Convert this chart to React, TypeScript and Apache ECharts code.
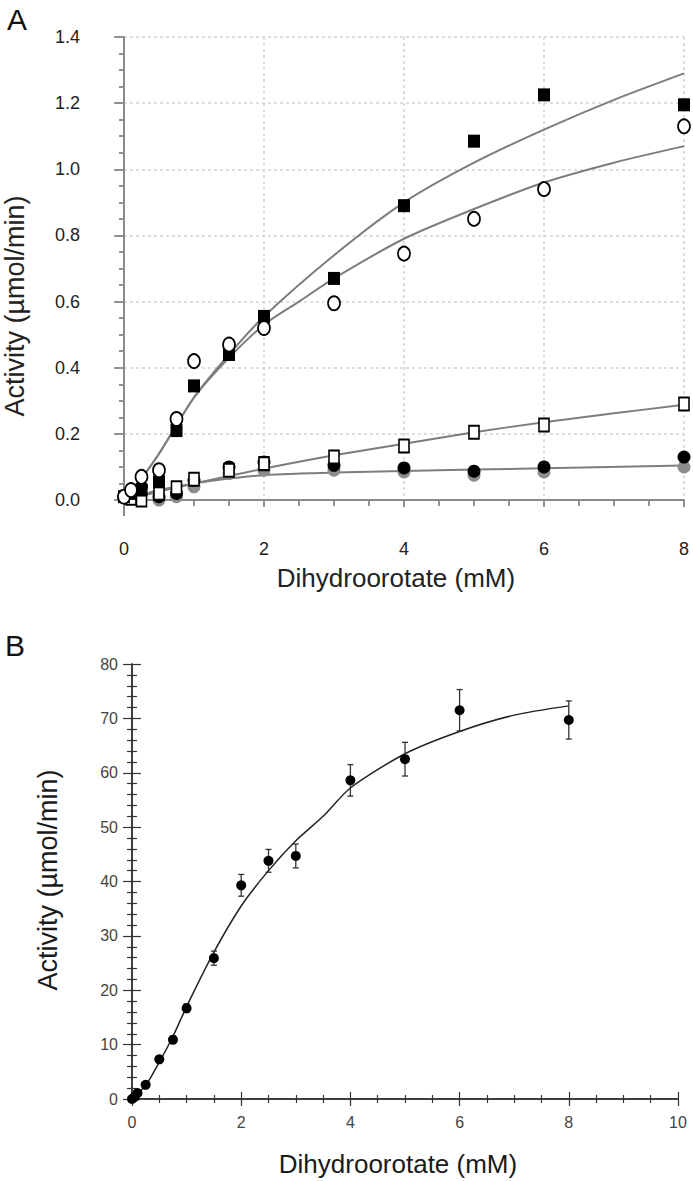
import React, { useEffect, useRef } from "react";
import * as echarts from "echarts";

// ---------- Panel A data ----------
const aFilledSqX = [0, 0.1, 0.25, 0.5, 0.75, 1, 1.5, 2, 3, 4, 5, 6, 8];
const aFilledSqY = [0.01, 0.02, 0.03, 0.055, 0.21, 0.345, 0.44, 0.555, 0.67, 0.89, 1.085, 1.225, 1.195];

const aOpenCircX = [0, 0.1, 0.25, 0.5, 0.75, 1, 1.5, 2, 3, 4, 5, 6, 8];
const aOpenCircY = [0.01, 0.03, 0.07, 0.09, 0.245, 0.42, 0.47, 0.52, 0.595, 0.745, 0.85, 0.94, 1.13];

const aOpenSqX = [0.1, 0.25, 0.5, 0.75, 1, 1.5, 2, 3, 4, 5, 6, 8];
const aOpenSqY = [0.005, 0.0, 0.02, 0.037, 0.063, 0.09, 0.11, 0.13, 0.163, 0.205, 0.227, 0.29];

const aFilledCircX = [0, 0.1, 0.25, 0.5, 0.75, 1, 1.5, 2, 3, 4, 5, 6, 8];
const aFilledCircY = [0.01, 0.02, 0.04, 0.01, 0.02, 0.06, 0.1, 0.115, 0.105, 0.097, 0.087, 0.1, 0.13];

const aGrayCircX = [0.5, 0.75, 1, 1.5, 2, 3, 4, 5, 6, 8];
const aGrayCircY = [0.0, 0.01, 0.04, 0.08, 0.09, 0.09, 0.085, 0.075, 0.085, 0.1];

// fitted curves
const aFitSqX = [0.1, 0.5, 1, 1.5, 2, 3, 4, 5, 6, 7, 8];
const aFitSqY = [0.02, 0.14, 0.31, 0.44, 0.555, 0.74, 0.9, 1.02, 1.12, 1.21, 1.29];
const aFitCircX = [0.1, 0.5, 1, 1.5, 2, 2.5, 3, 4, 5, 6, 7, 8];
const aFitCircY = [0.02, 0.14, 0.31, 0.43, 0.53, 0.6, 0.67, 0.79, 0.88, 0.96, 1.02, 1.07];
const aFitOpenSqX = [0, 0.5, 1, 2, 3, 4, 5, 6, 7, 8];
const aFitOpenSqY = [0, 0.025, 0.05, 0.095, 0.135, 0.17, 0.205, 0.235, 0.262, 0.288];
const aFitFilledCircX = [0, 0.25, 0.5, 1, 1.5, 2, 3, 4, 5, 6, 8];
const aFitFilledCircY = [0, 0.015, 0.03, 0.05, 0.065, 0.075, 0.083, 0.088, 0.092, 0.096, 0.104];

// ---------- Panel B data ----------
const bX = [0, 0.05, 0.1, 0.25, 0.5, 0.75, 1, 1.5, 2, 2.5, 3, 4, 5, 6, 8];
const bY = [0, 0.4, 1.1, 2.6, 7.3, 10.9, 16.7, 25.9, 39.3, 43.8, 44.7, 58.6, 62.5, 71.5, 69.7];
const bErr = [0.3, 0.3, 0.4, 0.5, 0.6, 0.7, 0.8, 1.3, 2.0, 2.1, 2.2, 2.9, 3.1, 3.8, 3.5];
const bFitX = [0, 0.25, 0.5, 0.75, 1, 1.5, 2, 2.5, 3, 3.5, 4, 5, 6, 7, 8];
const bFitY = [0, 2.5, 6.8, 11.5, 17, 27, 35.5, 42, 47.5, 52, 57.2, 63.5, 67.6, 70.6, 72.3];

const xTitle = "Dihydroorotate (mM)";
const yTitle = "Activity (\u00b5mol/min)";

const FONT = "'Liberation Sans', Arial, Helvetica, sans-serif";

const zip = (xs: number[], ys: number[]) => xs.map((x, i) => [x, ys[i]]);

export default function App() {
  const ref = useRef<HTMLDivElement>(null);
  useEffect(() => {
    if (!ref.current) return;
    const chart = echarts.init(ref.current, null, { renderer: "svg" });
    const aCol = "#8a8a8a";
    const bCol = "#333";
    const aLine = { show: true, lineStyle: { color: aCol, width: 2 } };
    const bLine = { show: true, lineStyle: { color: bCol, width: 1.5 } };
    const aTickStyle = { color: aCol, width: 1.5 };
    const bTickStyle = { color: bCol, width: 1.2 };
    const aSplit = { show: true, lineStyle: { color: "#d4d4d4", type: [3, 3], width: 1.5 } };

    const option: any = {
      animation: false,
      backgroundColor: "#fff",
      grid: [
        { left: 124, top: 37, width: 560, height: 463 },
        { left: 132, top: 664, width: 546, height: 435 },
      ],
      xAxis: [
        {
          gridIndex: 0, type: "value", min: 0, max: 8, interval: 2,
          axisLine: aLine,
          axisTick: { show: true, inside: false, length: 7, lineStyle: aTickStyle },
          minorTick: { show: true, splitNumber: 4, length: 6, lineStyle: aTickStyle },
          splitLine: aSplit,
          axisLabel: { fontSize: 18, color: "#222", margin: 40, fontFamily: FONT },
        },
        {
          gridIndex: 0, type: "value", min: 0, max: 8, interval: 2, position: "top",
          axisLine: aLine,
          axisTick: { show: true, inside: true, length: 7, lineStyle: aTickStyle },
          minorTick: { show: true, splitNumber: 4, length: 6, lineStyle: aTickStyle },
          splitLine: { show: false },
          axisLabel: { show: false },
        },
        {
          gridIndex: 1, type: "value", min: 0, max: 10, interval: 2,
          axisLine: bLine,
          axisTick: { show: true, inside: true, length: 7, lineStyle: bTickStyle },
          minorTick: { show: true, splitNumber: 4, length: 4, lineStyle: bTickStyle },
          splitLine: { show: false },
          axisLabel: { fontSize: 16, color: "#444", margin: 15, fontFamily: FONT },
        },
        {
          gridIndex: 1, type: "value", min: 0, max: 10, interval: 2, position: "top",
          axisLine: bLine,
          axisTick: { show: true, inside: true, length: 7, lineStyle: bTickStyle },
          minorTick: { show: true, splitNumber: 4, length: 4, lineStyle: bTickStyle },
          splitLine: { show: false },
          axisLabel: { show: false },
        },
      ],
      yAxis: [
        {
          gridIndex: 0, type: "value", min: 0, max: 1.4, interval: 0.2,
          axisLine: aLine,
          axisTick: { show: true, inside: false, length: 10, lineStyle: aTickStyle },
          minorTick: { show: true, splitNumber: 4, length: 5, lineStyle: aTickStyle },
          splitLine: aSplit,
          axisLabel: {
            fontSize: 18, color: "#222", margin: 44, fontFamily: FONT,
            formatter: (v: number) => v.toFixed(1),
          },
        },
        {
          gridIndex: 0, type: "value", min: 0, max: 1.4, interval: 0.2, position: "right",
          axisLine: aLine,
          axisTick: { show: true, inside: true, length: 9, lineStyle: aTickStyle },
          minorTick: { show: true, splitNumber: 4, length: 5, lineStyle: aTickStyle },
          splitLine: { show: false },
          axisLabel: { show: false },
        },
        {
          gridIndex: 1, type: "value", min: 0, max: 80, interval: 10,
          axisLine: bLine,
          axisTick: { show: true, inside: true, length: 9, lineStyle: bTickStyle },
          minorTick: { show: true, splitNumber: 5, length: 5, lineStyle: bTickStyle },
          splitLine: { show: false },
          axisLabel: { fontSize: 16, color: "#444", margin: 14, fontFamily: FONT },
        },
        {
          gridIndex: 1, type: "value", min: 0, max: 80, interval: 10, position: "right",
          axisLine: bLine,
          axisTick: { show: true, inside: true, length: 9, lineStyle: bTickStyle },
          minorTick: { show: true, splitNumber: 5, length: 5, lineStyle: bTickStyle },
          splitLine: { show: false },
          axisLabel: { show: false },
        },
      ],
      graphic: [
        { type: "line", shape: { x1: 124, y1: 500, x2: 124, y2: 516 }, style: { stroke: aCol, lineWidth: 2 } },
        { type: "text", x: 17, y: 19, style: { text: "A", font: `30px ${FONT}`, fill: "#111", align: "center", verticalAlign: "middle" } },
        { type: "text", x: 15, y: 645, style: { text: "B", font: `30px ${FONT}`, fill: "#111", align: "center", verticalAlign: "middle" } },
        { type: "text", x: 15, y: 306, rotation: Math.PI / 2, style: { text: yTitle, font: `27px ${FONT}`, fill: "#222", align: "center", verticalAlign: "middle" } },
        { type: "text", x: 396, y: 578, style: { text: xTitle, font: `26px ${FONT}`, fill: "#222", align: "center", verticalAlign: "middle" } },
        { type: "text", x: 48, y: 880, rotation: Math.PI / 2, style: { text: yTitle, font: `27px ${FONT}`, fill: "#1a1a1a", align: "center", verticalAlign: "middle" } },
        { type: "text", x: 398, y: 1164, style: { text: xTitle, font: `26px ${FONT}`, fill: "#1a1a1a", align: "center", verticalAlign: "middle" } },
      ],
      series: [
        // Panel A fitted curves
        ...[
          [aFitSqX, aFitSqY],
          [aFitCircX, aFitCircY],
          [aFitOpenSqX, aFitOpenSqY],
          [aFitFilledCircX, aFitFilledCircY],
        ].map(([xs, ys]) => ({
          type: "line", xAxisIndex: 0, yAxisIndex: 0, data: zip(xs, ys),
          showSymbol: false, smooth: 0.25,
          lineStyle: { color: "#7d7d7d", width: 2 }, z: 3,
        })),
        {
          type: "scatter", xAxisIndex: 0, yAxisIndex: 0, data: zip(aGrayCircX, aGrayCircY),
          symbol: "circle", symbolSize: 13, itemStyle: { color: "#8c8c8c", opacity: 1 }, z: 4,
        },
        {
          type: "scatter", xAxisIndex: 0, yAxisIndex: 0, data: zip(aFilledCircX, aFilledCircY),
          symbol: "circle", symbolSize: 13, itemStyle: { color: "#000", opacity: 1 }, z: 5,
        },
        {
          type: "scatter", xAxisIndex: 0, yAxisIndex: 0, data: zip(aOpenSqX, aOpenSqY),
          symbol: "rect", symbolSize: [10, 13], itemStyle: { color: "#fff", borderColor: "#000", borderWidth: 1.8, opacity: 1 }, z: 6,
        },
        {
          type: "scatter", xAxisIndex: 0, yAxisIndex: 0, data: zip(aFilledSqX, aFilledSqY),
          symbol: "rect", symbolSize: [12, 13], itemStyle: { color: "#000", opacity: 1 }, z: 7,
        },
        {
          type: "scatter", xAxisIndex: 0, yAxisIndex: 0, data: zip(aOpenCircX, aOpenCircY),
          symbol: "circle", symbolSize: [12, 14], itemStyle: { color: "#fff", borderColor: "#000", borderWidth: 1.8, opacity: 1 }, z: 8,
        },
        // Panel B
        {
          type: "line", xAxisIndex: 2, yAxisIndex: 2, data: zip(bFitX, bFitY),
          showSymbol: false, smooth: 0.25,
          lineStyle: { color: "#222", width: 1.5 }, z: 3,
        },
        {
          type: "custom", xAxisIndex: 2, yAxisIndex: 2,
          data: bX.map((x, i) => [x, bY[i], bErr[i]]),
          encode: { x: 0, y: 1 },
          renderItem: (params: any, api: any) => {
            const x = api.value(0);
            const y = api.value(1);
            const e = api.value(2);
            const top = api.coord([x, y + e]);
            const bot = api.coord([x, y - e]);
            const hw = 3;
            const st = { stroke: "#333", lineWidth: 1.3 };
            return {
              type: "group",
              children: [
                { type: "line", shape: { x1: top[0], y1: top[1], x2: bot[0], y2: bot[1] }, style: st },
                { type: "line", shape: { x1: top[0] - hw, y1: top[1], x2: top[0] + hw, y2: top[1] }, style: st },
                { type: "line", shape: { x1: bot[0] - hw, y1: bot[1], x2: bot[0] + hw, y2: bot[1] }, style: st },
              ],
            };
          },
          z: 4,
        },
        {
          type: "scatter", xAxisIndex: 2, yAxisIndex: 2, data: zip(bX, bY),
          symbol: "circle", symbolSize: 10, itemStyle: { color: "#000", opacity: 1 }, z: 5,
        },
      ],
    };
    chart.setOption(option);
    return () => chart.dispose();
  }, []);
  return (
    <div
      ref={ref}
      style={{ position: "absolute", left: 0, top: 0, width: 693, height: 1181, background: "#fff" }}
    />
  );
}
